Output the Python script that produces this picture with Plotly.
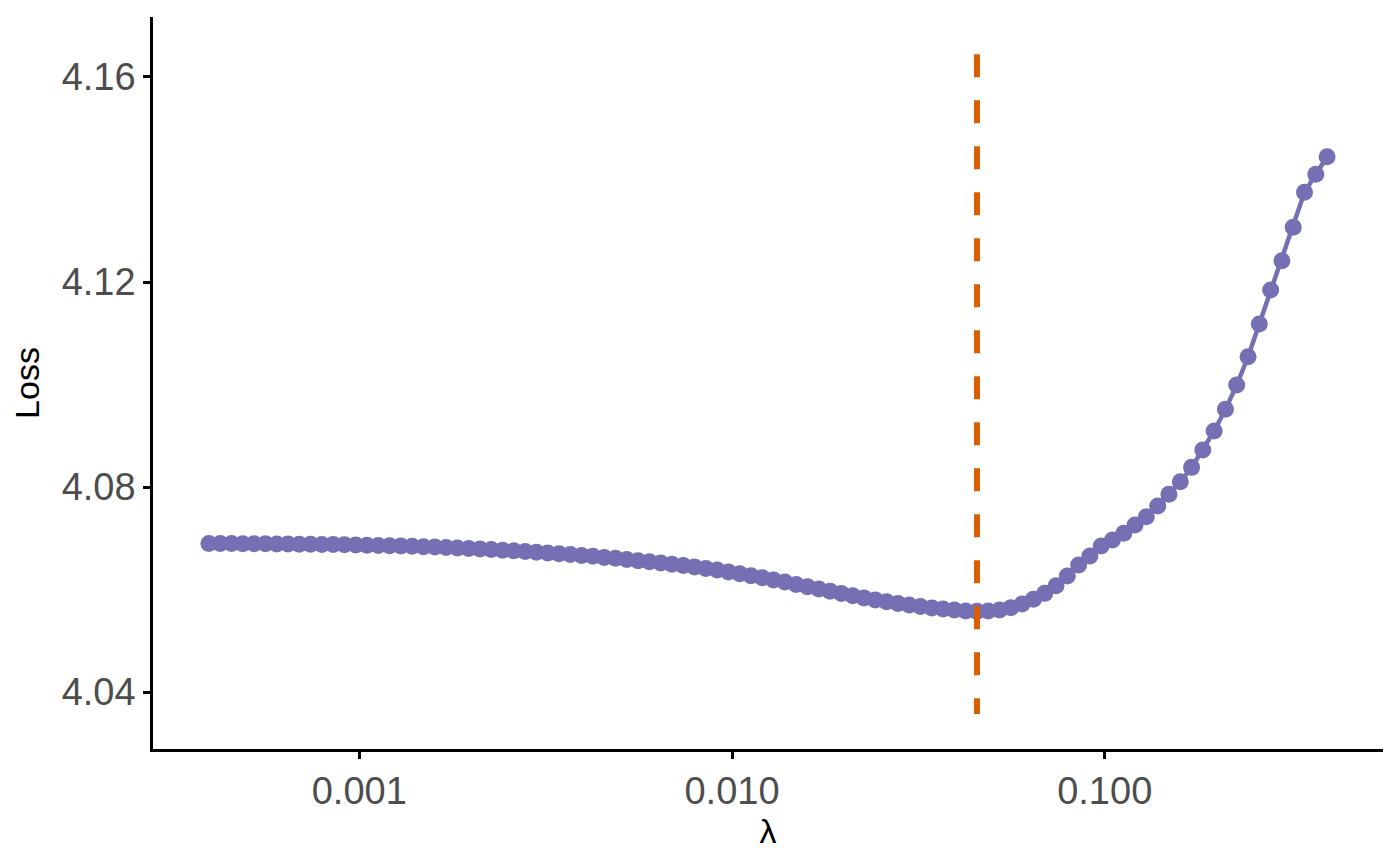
import numpy as np
import plotly.graph_objects as go

# lambda grid (ascending) and loss
lambdas = [
    0.000395, 0.0004235, 0.0004542, 0.0004870, 0.0005222, 0.0005599, 0.0006004, 0.0006438,
    0.0006903, 0.0007402, 0.0007936, 0.0008510, 0.0009125, 0.0009784, 0.001049, 0.001125,
    0.001206, 0.001293, 0.001387, 0.001487, 0.001595, 0.001710, 0.001833, 0.001966,
    0.002108, 0.002260, 0.002424, 0.002599, 0.002787, 0.002988, 0.003204, 0.003436,
    0.003684, 0.003950, 0.004235, 0.004542, 0.004870, 0.005222, 0.005599, 0.006004,
    0.006438, 0.006903, 0.007402, 0.007936, 0.008510, 0.009125, 0.009784, 0.01049,
    0.01125, 0.01206, 0.01293, 0.01387, 0.01487, 0.01595, 0.01710, 0.01833,
    0.01966, 0.02108, 0.02260, 0.02424, 0.02599, 0.02787, 0.02988, 0.03204,
    0.03436, 0.03684, 0.03950, 0.04235, 0.04542, 0.04870, 0.05222, 0.05599,
    0.06004, 0.06438, 0.06903, 0.07402, 0.07936, 0.08510, 0.09125, 0.09784,
    0.1049, 0.1125, 0.1206, 0.1293, 0.1387, 0.1487, 0.1595, 0.1710,
    0.1833, 0.1966, 0.2108, 0.2260, 0.2424, 0.2599, 0.2787, 0.2988,
    0.3204, 0.3436, 0.3684, 0.3950,
]
loss = [
    4.06901, 4.06899, 4.06898, 4.06896, 4.06894, 4.06892, 4.06890, 4.06888,
    4.06886, 4.06884, 4.06880, 4.06878, 4.06874, 4.06870, 4.06866, 4.06862,
    4.06857, 4.06851, 4.06845, 4.06837, 4.06829, 4.06821, 4.06812, 4.06802,
    4.06792, 4.06781, 4.06769, 4.06757, 4.06743, 4.06730, 4.06714, 4.06699,
    4.06683, 4.06665, 4.06648, 4.06628, 4.06609, 4.06585, 4.06564, 4.06541,
    4.06517, 4.06494, 4.06468, 4.06441, 4.06412, 4.06380, 4.06345, 4.06310,
    4.06271, 4.06232, 4.06189, 4.06146, 4.06101, 4.06057, 4.06012, 4.05967,
    4.05922, 4.05879, 4.05838, 4.05799, 4.05762, 4.05729, 4.05698, 4.05668,
    4.05643, 4.05620, 4.05600, 4.05584, 4.05575, 4.05580, 4.05600, 4.05645,
    4.05720, 4.05811, 4.05926, 4.06074, 4.06263, 4.06478, 4.06654, 4.06849,
    4.06966, 4.07097, 4.07259, 4.07421, 4.07629, 4.07858, 4.08103, 4.08384,
    4.08722, 4.09093, 4.09516, 4.09990, 4.10542, 4.11180, 4.11844, 4.12416,
    4.13067, 4.13753, 4.14101, 4.14445,
]

x_ticks = [0.001, 0.01, 0.1]
x_ticklabels = ["0.001", "0.010", "0.100"]
y_ticks = [4.04, 4.08, 4.12, 4.16]

purple = "#7570B3"
orange = "#D95F02"

# best lambda = minimum loss, segment spans the data +/- 0.02
i_best = int(np.argmin(loss))
lam_best = lambdas[i_best]
seg_top = max(loss) + 0.02
seg_bot = min(loss) - 0.02

fig = go.Figure()
fig.add_trace(go.Scatter(
    x=lambdas, y=loss, mode="lines+markers",
    line=dict(color=purple, width=4.5),
    marker=dict(color=purple, size=17, line=dict(width=0)),
    hoverinfo="skip", showlegend=False,
))
fig.add_trace(go.Scatter(
    x=[lam_best, lam_best], y=[seg_top, seg_bot], mode="lines",
    line=dict(color=orange, width=6, dash="23px,23px"),
    hoverinfo="skip", showlegend=False,
))

lx = np.log10([min(lambdas), max(lambdas)])
pad = 0.05 * (lx[1] - lx[0])

tick_font = dict(family="Liberation Sans, Arial, sans-serif", size=38, color="#4D4D4D")
title_font = dict(family="Liberation Sans, Arial, sans-serif", size=34, color="black")

# the page body adds ~8px, margins account for it
fig.update_layout(
    width=1400, height=865,
    margin=dict(l=145, r=25, t=9, b=124),
    paper_bgcolor="white", plot_bgcolor="white",
    showlegend=False,
)
fig.update_xaxes(
    type="log", range=[lx[0] - pad, lx[1] + pad],
    tickvals=x_ticks, ticktext=x_ticklabels,
    ticks="outside", ticklen=7, tickwidth=2.5, tickcolor="black",
    showline=True, linecolor="black", linewidth=2.5,
    showgrid=False, zeroline=False,
    tickfont=tick_font,
    title=dict(text="λ", font=title_font, standoff=0),
)
fig.update_yaxes(
    range=[4.0289, 4.1717],
    tickvals=y_ticks, tickformat=".2f",
    ticks="outside", ticklen=7, tickwidth=2.5, tickcolor="black",
    showline=True, linecolor="black", linewidth=2.5,
    showgrid=False, zeroline=False,
    tickfont=tick_font,
    title=dict(text="Loss", font=title_font, standoff=12),
)

fig.write_html("out.html")
